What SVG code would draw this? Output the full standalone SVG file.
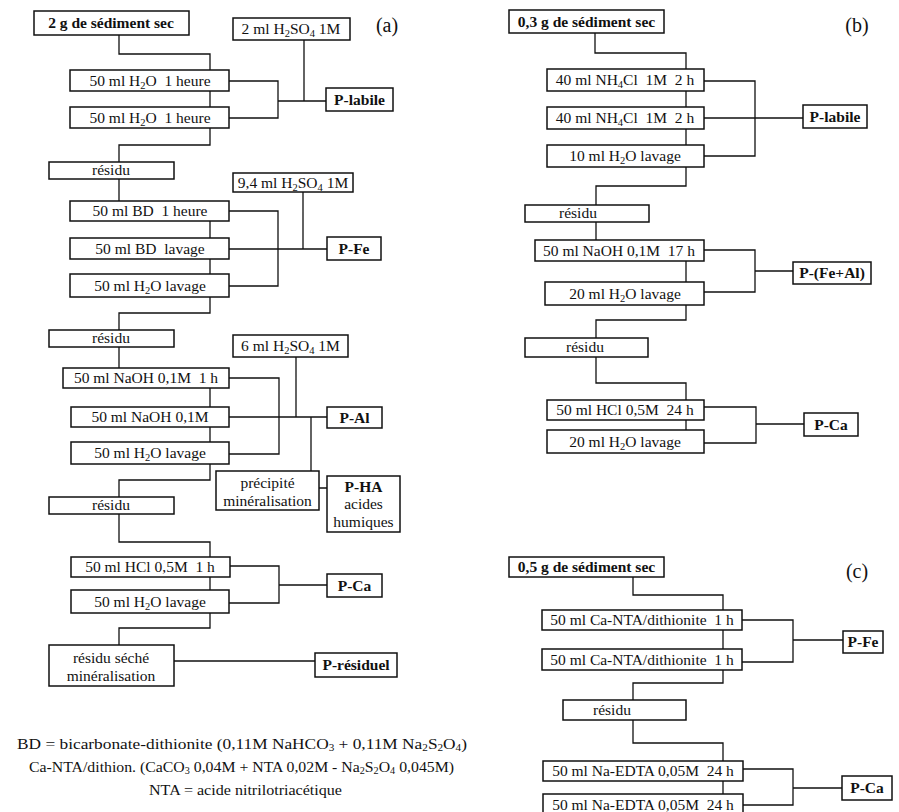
<svg xmlns="http://www.w3.org/2000/svg" width="899" height="812" viewBox="0 0 899 812">
<style>
.t{font-family:"Liberation Serif","Times New Roman",serif;font-size:15.5px;fill:#111;text-anchor:middle}
.b{font-weight:bold}
.s{font-size:10.5px}
.ls{font-size:10px}
.lbl{font-size:20px}
.leg{font-size:15.5px;text-anchor:start}
.box{fill:#fff;stroke:#111;stroke-width:1.5}
.conn{fill:none;stroke:#111;stroke-width:1.3}
</style>
<rect width="899" height="812" fill="#fff"/>
<g id="connectors" class="conn">
<path d="M119,35V54H210V70M210,91V107M229,81H278V118H229M278,101H326M304,40V101"/>
<path d="M210,128V145H119V162M119,179V201M210,221V238M210,259V274M229,211H278V286H229M229,249H327M303,192V249"/>
<path d="M210,297V313H119V330M119,347V368M210,388V407M210,427V442M229,378H279V454H229M229,417H327M296,357V417M311,417V471M319,488H327"/>
<path d="M210,464V480H119V497M119,514V542H210V557M210,577V590M230,566H279V603H229M279,585H327M210,613V628H119V645M174,661H315"/>
<path d="M595,33V53H686V69M686,91V107M686,129V145M704,81H755V156H704M704,118H803M686,167V186H596V205M596,222V240"/>
<path d="M686,261V282M704,250H755V292H704M755,271H793M686,305V320H596V338M596,357V383H686V400M686,420V430M704,407H756V443H704M756,424H804"/>
<path d="M633,577V595H723V610M723,630V649M742,620H793V662H742M793,640H843M723,670V683H633V700M633,720V743H723V761M723,781V794M743,769H793V805H743M793,788H842"/>
</g>
<g id="a_label"><text class="t lbl" x="387" y="32">(a)</text></g>
<g id="b_label"><text class="t lbl" x="857" y="32">(b)</text></g>
<g id="c_label"><text class="t lbl" x="857" y="578">(c)</text></g>
<g id="a_sediment"><rect class="box" x="34" y="11" width="155" height="24"/><text class="t b" x="111" y="28">2 g de sédiment sec</text></g>
<g id="a_h2so4_1"><rect class="box" x="233" y="18" width="117" height="22"/><text class="t" x="291" y="34">2 ml H<tspan class="s" dy="3">2</tspan><tspan dy="-3">SO</tspan><tspan class="s" dy="3">4</tspan><tspan dy="-3"> 1M</tspan></text></g>
<g id="a_h2o_1"><rect class="box" x="70" y="70" width="159" height="21"/><text class="t" x="150" y="86" xml:space="preserve">50 ml H<tspan class="s" dy="3">2</tspan><tspan dy="-3">O  1 heure</tspan></text></g>
<g id="a_h2o_2"><rect class="box" x="70" y="107" width="159" height="21"/><text class="t" x="150" y="123" xml:space="preserve">50 ml H<tspan class="s" dy="3">2</tspan><tspan dy="-3">O  1 heure</tspan></text></g>
<g id="a_plabile"><rect class="box" x="326" y="88" width="67" height="23"/><text class="t b" x="359.5" y="105">P-labile</text></g>
<g id="a_residu_1"><rect class="box" x="49" y="162" width="125" height="17"/><text class="t" x="111" y="175">résidu</text></g>
<g id="a_h2so4_2"><rect class="box" x="233" y="173" width="120" height="19"/><text class="t" x="293" y="188">9,4 ml H<tspan class="s" dy="3">2</tspan><tspan dy="-3">SO</tspan><tspan class="s" dy="3">4</tspan><tspan dy="-3"> 1M</tspan></text></g>
<g id="a_bd_1"><rect class="box" x="70" y="201" width="159" height="20"/><text class="t" x="150" y="216" xml:space="preserve">50 ml BD  1 heure</text></g>
<g id="a_bd_2"><rect class="box" x="70" y="238" width="159" height="21"/><text class="t" x="150" y="254" xml:space="preserve">50 ml BD  lavage</text></g>
<g id="a_h2o_3"><rect class="box" x="70" y="274" width="159" height="23"/><text class="t" x="150" y="291">50 ml H<tspan class="s" dy="3">2</tspan><tspan dy="-3">O lavage</tspan></text></g>
<g id="a_pfe"><rect class="box" x="327" y="237" width="54" height="23"/><text class="t b" x="354" y="254">P-Fe</text></g>
<g id="a_residu_2"><rect class="box" x="49" y="330" width="125" height="17"/><text class="t" x="111" y="343">résidu</text></g>
<g id="a_h2so4_3"><rect class="box" x="233" y="335" width="115" height="22"/><text class="t" x="290.5" y="351">6 ml H<tspan class="s" dy="3">2</tspan><tspan dy="-3">SO</tspan><tspan class="s" dy="3">4</tspan><tspan dy="-3"> 1M</tspan></text></g>
<g id="a_naoh_1"><rect class="box" x="63" y="368" width="166" height="20"/><text class="t" x="146" y="383" xml:space="preserve">50 ml NaOH 0,1M  1 h</text></g>
<g id="a_naoh_2"><rect class="box" x="71" y="407" width="158" height="20"/><text class="t" x="150" y="422">50 ml NaOH 0,1M</text></g>
<g id="a_h2o_4"><rect class="box" x="71" y="442" width="158" height="22"/><text class="t" x="150" y="458">50 ml H<tspan class="s" dy="3">2</tspan><tspan dy="-3">O lavage</tspan></text></g>
<g id="a_pal"><rect class="box" x="327" y="407" width="55" height="21"/><text class="t b" x="354.5" y="423">P-Al</text></g>
<g id="a_precipite"><rect class="box" x="216" y="471" width="103" height="39"/><text class="t" x="267.5" y="488">précipité</text><text class="t" x="267.5" y="506">minéralisation</text></g>
<g id="a_pha"><rect class="box" x="327" y="476" width="73" height="56"/><text class="t b" x="363.5" y="492">P-HA</text><text class="t" x="363.5" y="509">acides</text><text class="t" x="363.5" y="527">humiques</text></g>
<g id="a_residu_3"><rect class="box" x="49" y="497" width="125" height="17"/><text class="t" x="111" y="510">résidu</text></g>
<g id="a_hcl"><rect class="box" x="71" y="557" width="159" height="20"/><text class="t" x="150" y="572" xml:space="preserve">50 ml HCl 0,5M  1 h</text></g>
<g id="a_h2o_5"><rect class="box" x="71" y="590" width="158" height="23"/><text class="t" x="150" y="607">50 ml H<tspan class="s" dy="3">2</tspan><tspan dy="-3">O lavage</tspan></text></g>
<g id="a_pca"><rect class="box" x="327" y="574" width="55" height="23"/><text class="t b" x="354.5" y="591">P-Ca</text></g>
<g id="a_residu_seche"><rect class="box" x="49" y="645" width="125" height="41"/><text class="t" x="111" y="663">résidu séché</text><text class="t" x="111" y="681">minéralisation</text></g>
<g id="a_presiduel"><rect class="box" x="315" y="653" width="82" height="24"/><text class="t b" x="356" y="670">P-résiduel</text></g>
<g id="b_sediment"><rect class="box" x="509" y="10" width="155" height="23"/><text class="t b" x="586.5" y="27">0,3 g de sédiment sec</text></g>
<g id="b_nh4cl_1"><rect class="box" x="547" y="69" width="157" height="22"/><text class="t" x="625" y="85" xml:space="preserve">40 ml NH<tspan class="s" dy="3">4</tspan><tspan dy="-3">Cl  1M  2 h</tspan></text></g>
<g id="b_nh4cl_2"><rect class="box" x="547" y="107" width="157" height="22"/><text class="t" x="625" y="123" xml:space="preserve">40 ml NH<tspan class="s" dy="3">4</tspan><tspan dy="-3">Cl  1M  2 h</tspan></text></g>
<g id="b_h2o_1"><rect class="box" x="547" y="145" width="157" height="22"/><text class="t" x="625" y="161">10 ml H<tspan class="s" dy="3">2</tspan><tspan dy="-3">O lavage</tspan></text></g>
<g id="b_plabile"><rect class="box" x="803" y="105" width="64" height="23"/><text class="t b" x="835" y="122">P-labile</text></g>
<g id="b_residu_1"><rect class="box" x="525" y="205" width="124" height="17"/><text class="t" x="578" y="218">résidu</text></g>
<g id="b_naoh"><rect class="box" x="535" y="240" width="169" height="21"/><text class="t" x="619" y="256" xml:space="preserve">50 ml NaOH 0,1M  17 h</text></g>
<g id="b_h2o_2"><rect class="box" x="545" y="282" width="159" height="23"/><text class="t" x="625" y="299">20 ml H<tspan class="s" dy="3">2</tspan><tspan dy="-3">O lavage</tspan></text></g>
<g id="b_pfeal"><rect class="box" x="793" y="262" width="78" height="22"/><text class="t b" x="832" y="278">P-(Fe+Al)</text></g>
<g id="b_residu_2"><rect class="box" x="525" y="338" width="123" height="19"/><text class="t" x="585" y="352">résidu</text></g>
<g id="b_hcl"><rect class="box" x="547" y="400" width="157" height="20"/><text class="t" x="625" y="415" xml:space="preserve">50 ml HCl 0,5M  24 h</text></g>
<g id="b_h2o_3"><rect class="box" x="547" y="430" width="157" height="23"/><text class="t" x="625" y="447">20 ml H<tspan class="s" dy="3">2</tspan><tspan dy="-3">O lavage</tspan></text></g>
<g id="b_pca"><rect class="box" x="804" y="413" width="54" height="23"/><text class="t b" x="831" y="430">P-Ca</text></g>
<g id="c_sediment"><rect class="box" x="509" y="557" width="155" height="20"/><text class="t b" x="586.5" y="572">0,5 g de sédiment sec</text></g>
<g id="c_canta_1"><rect class="box" x="542" y="610" width="200" height="20"/><text class="t" x="642" y="625" xml:space="preserve">50 ml Ca-NTA/dithionite  1 h</text></g>
<g id="c_canta_2"><rect class="box" x="542" y="649" width="200" height="21"/><text class="t" x="642" y="665" xml:space="preserve">50 ml Ca-NTA/dithionite  1 h</text></g>
<g id="c_pfe"><rect class="box" x="843" y="631" width="40" height="22"/><text class="t b" x="863" y="647">P-Fe</text></g>
<g id="c_residu"><rect class="box" x="563" y="700" width="123" height="20"/><text class="t" x="612" y="715">résidu</text></g>
<g id="c_edta_1"><rect class="box" x="543" y="761" width="200" height="20"/><text class="t" x="643" y="776" xml:space="preserve">50 ml Na-EDTA 0,05M  24 h</text></g>
<g id="c_edta_2"><rect class="box" x="543" y="794" width="200" height="22"/><text class="t" x="643" y="810" xml:space="preserve">50 ml Na-EDTA 0,05M  24 h</text></g>
<g id="c_pca"><rect class="box" x="842" y="776" width="50" height="24"/><text class="t b" x="867" y="793">P-Ca</text></g>
<g id="legend">
<text class="t leg" x="17" y="749" textLength="450" lengthAdjust="spacingAndGlyphs">BD = bicarbonate-dithionite (0,11M NaHCO<tspan class="ls" dy="2">3</tspan><tspan dy="-2"> + 0,11M Na</tspan><tspan class="ls" dy="2">2</tspan><tspan dy="-2">S</tspan><tspan class="ls" dy="2">2</tspan><tspan dy="-2">O</tspan><tspan class="ls" dy="2">4</tspan><tspan dy="-2">)</tspan></text>
<text class="t leg" x="29" y="772" textLength="425" lengthAdjust="spacingAndGlyphs">Ca-NTA/dithion. (CaCO<tspan class="ls" dy="2">3</tspan><tspan dy="-2"> 0,04M + NTA 0,02M - Na</tspan><tspan class="ls" dy="2">2</tspan><tspan dy="-2">S</tspan><tspan class="ls" dy="2">2</tspan><tspan dy="-2">O</tspan><tspan class="ls" dy="2">4</tspan><tspan dy="-2"> 0,045M)</tspan></text>
<text class="t leg" x="149" y="795" textLength="193" lengthAdjust="spacingAndGlyphs">NTA = acide nitrilotriacétique</text>
</g>
</svg>
